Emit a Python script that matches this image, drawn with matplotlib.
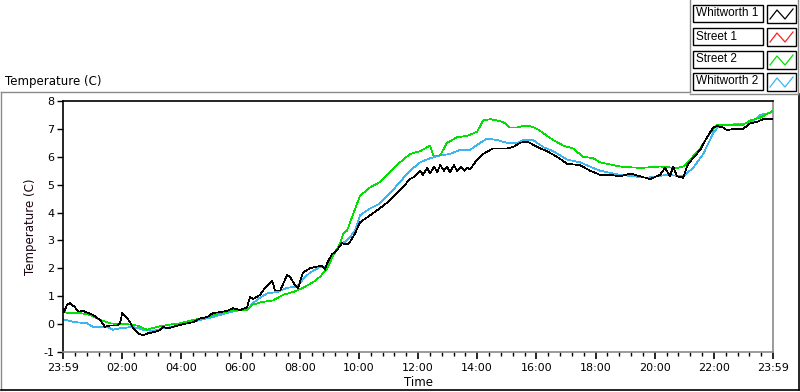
import matplotlib
matplotlib.use("Agg")
import matplotlib.pyplot as plt
from matplotlib.lines import Line2D
from matplotlib.patches import Rectangle
import numpy as np

# ---------------- data (hours since 23:59, temperature in C) ----------------
w1_t = [0.00, 0.03, 0.14, 0.24, 0.41, 0.51, 0.68, 0.85, 1.01, 1.25, 1.42, 1.59, 1.83, 1.93, 2.00,
        2.10, 2.27, 2.37, 2.54, 2.70, 2.87, 3.11, 3.28, 3.38, 3.55, 3.72, 4.06, 4.40, 4.63, 4.87,
        5.07, 5.31, 5.54, 5.75, 5.98, 6.22, 6.32, 6.42, 6.59, 6.66, 6.83, 7.07, 7.17, 7.34, 7.57,
        7.67, 7.84, 7.95, 8.11, 8.35, 8.52, 8.76, 8.86, 8.93, 9.09, 9.26, 9.43, 9.60, 9.70, 9.87,
        10.04, 10.38, 10.72, 11.06, 11.39, 11.73, 11.90, 12.07, 12.17, 12.31, 12.41, 12.54, 12.65,
        12.75, 12.88, 12.98, 13.08, 13.22, 13.32, 13.46, 13.56, 13.66, 13.76, 14.00, 14.20, 14.54,
        15.01, 15.21, 15.45, 15.69, 16.03, 16.36, 16.70, 17.04, 17.48, 17.82, 18.16, 18.49, 18.83,
        19.17, 19.51, 19.85, 20.18, 20.35, 20.52, 20.62, 20.76, 20.96, 21.13, 21.30, 21.54, 21.77,
        21.98, 22.11, 22.31, 22.45, 22.65, 22.99, 23.23, 23.46, 23.67, 24.00]
w1_v = [0.55, 0.43, 0.70, 0.75, 0.60, 0.45, 0.47, 0.40, 0.33, 0.15, -0.10, -0.05, -0.05, 0.03, 0.40,
        0.30, 0.07, -0.15, -0.33, -0.40, -0.33, -0.28, -0.22, -0.10, -0.15, -0.10, 0.00, 0.07, 0.20, 0.25,
        0.40, 0.43, 0.47, 0.57, 0.50, 0.60, 0.97, 0.90, 1.00, 1.05, 1.30, 1.55, 1.20, 1.20, 1.75,
        1.70, 1.40, 1.30, 1.85, 2.00, 2.05, 2.10, 1.95, 2.20, 2.50, 2.65, 2.90, 2.85, 2.95, 3.25,
        3.65, 3.90, 4.16, 4.44, 4.80, 5.20, 5.30, 5.50, 5.35, 5.60, 5.40, 5.65, 5.45,
        5.70, 5.50, 5.65, 5.45, 5.70, 5.50, 5.65, 5.50, 5.60, 5.55, 5.90, 6.10, 6.30,
        6.30, 6.35, 6.50, 6.55, 6.35, 6.20, 6.00, 5.75, 5.70, 5.50, 5.35, 5.35, 5.30,
        5.40, 5.30, 5.20, 5.35, 5.60, 5.30, 5.65, 5.30, 5.25, 5.75, 5.95, 6.25, 6.70,
        7.05, 7.10, 7.05, 6.95, 7.00, 7.00, 7.20, 7.25, 7.35, 7.35]

s2_t = [0.00, 0.14, 0.57, 0.91, 1.25, 1.59, 1.83, 2.16, 2.50, 2.84, 3.18, 3.52, 3.96, 4.40, 4.87,
        5.31, 5.75, 6.22, 6.42, 6.76, 7.10, 7.44, 7.78, 8.11, 8.45, 8.69, 8.93, 9.13, 9.37, 9.47,
        9.60, 10.04, 10.38, 10.72, 11.06, 11.39, 11.73, 12.07, 12.41, 12.51, 12.75, 12.98, 13.32,
        13.66, 14.00, 14.20, 14.44, 14.67, 14.88, 15.11, 15.35, 15.55, 15.79, 16.03, 16.23, 16.57,
        16.91, 17.24, 17.58, 17.92, 18.16, 18.83, 19.51, 20.18, 20.76, 20.96, 21.20, 21.54, 21.87,
        22.11, 22.31, 22.99, 23.23, 23.57, 24.00]
s2_v = [0.45, 0.40, 0.40, 0.33, 0.15, 0.03, 0.00, 0.00, -0.05, -0.20, -0.10, -0.03, 0.03, 0.15, 0.25,
        0.40, 0.50, 0.50, 0.70, 0.80, 0.85, 1.05, 1.15, 1.30, 1.50, 1.70, 2.00, 2.45, 2.90, 3.25,
        3.35, 4.60, 4.90, 5.10, 5.45, 5.80, 6.10, 6.20, 6.40, 6.05, 6.05, 6.50, 6.70,
        6.75, 6.90, 7.30, 7.35, 7.30, 7.25, 7.05, 7.05, 7.10, 7.10, 7.00, 6.85, 6.60,
        6.40, 6.30, 6.00, 5.95, 5.80, 5.65, 5.60, 5.65, 5.60, 5.65, 5.90, 6.30, 6.85,
        7.15, 7.15, 7.15, 7.30, 7.40, 7.65]

# Street 1 is hidden beneath Street 2 in the reference
s1_t = s2_t
s1_v = s2_v

w2_t = [0.00, 0.34, 0.81, 1.01, 1.49, 1.69, 1.93, 2.37, 2.70, 3.04, 3.38, 3.72, 4.19, 4.63, 5.07,
        5.54, 5.98, 6.22, 6.42, 6.59, 6.90, 7.24, 7.57, 7.91, 8.11, 8.35, 8.69, 8.93, 9.13, 9.37,
        9.60, 9.87, 10.04, 10.38, 10.72, 11.06, 11.39, 11.73, 12.07, 12.41, 12.75, 13.08, 13.42,
        13.76, 14.10, 14.34, 14.67, 15.01, 15.35, 15.55, 15.89, 16.23, 16.57, 17.04, 17.48, 17.92,
        18.16, 18.83, 19.74, 20.42, 20.96, 21.30, 21.64, 21.98, 22.21, 22.45, 23.23, 23.57, 24.00]
w2_v = [0.18, 0.08, 0.03, -0.10, -0.10, -0.20, -0.15, -0.10, -0.20, -0.25, -0.15, -0.10, 0.03, 0.15, 0.25,
        0.40, 0.50, 0.50, 0.75, 0.90, 1.10, 1.15, 1.30, 1.35, 1.60, 1.85, 2.05, 2.05, 2.50, 2.85,
        3.00, 3.35, 3.90, 4.15, 4.33, 4.70, 5.10, 5.50, 5.80, 5.95, 6.05, 6.10, 6.25,
        6.25, 6.50, 6.65, 6.60, 6.50, 6.50, 6.60, 6.60, 6.35, 6.20, 5.90, 5.80, 5.60,
        5.50, 5.35, 5.25, 5.35, 5.30, 5.60, 6.10, 6.85, 7.15, 7.15, 7.20, 7.50, 7.60]

series_names = ["Whitworth 1", "Street 1", "Street 2", "Whitworth 2"]
series_colors = ["#000000", "#ff2020", "#00e000", "#3cb4f0"]

x_tick_pos = [0, 2, 4, 6, 8, 10, 12, 14, 16, 18, 20, 22, 24]
x_tick_labels = ["23:59", "02:00", "04:00", "06:00", "08:00", "10:00", "12:00",
                 "14:00", "16:00", "18:00", "20:00", "22:00", "23:59"]
y_ticks = [-1, 0, 1, 2, 3, 4, 5, 6, 7, 8]

# ---------------- figure ----------------
W, H = 800, 392
fig = plt.figure(figsize=(W / 100, H / 100), dpi=100)
plt.rcParams['font.family'] = ['DejaVu Sans']
FS = 8
LEG_FONT = ['Liberation Sans', 'DejaVu Sans']
LW = 0.5

def fx(px):
    return px / W

def fy(py):
    return 1 - py / H

ax = fig.add_axes([fx(63), fy(352), fx(773) - fx(63), fy(101) - fy(352)])

# Street 1 drawn first, fully covered by Street 2 (identical aliased path)
ax.plot(w2_t, w2_v, color=series_colors[3], lw=LW, zorder=2, antialiased=False)
ax.plot(s1_t, s1_v, color=series_colors[1], lw=LW, zorder=3, antialiased=False)
ax.plot(s2_t, s2_v, color=series_colors[2], lw=LW, zorder=4, antialiased=False)
ax.plot(w1_t, w1_v, color=series_colors[0], lw=LW, zorder=5, antialiased=False)

ax.set_xlim(0, 24)
ax.set_ylim(-1, 8)
ax.set_xticks(x_tick_pos)
ax.set_xticklabels(x_tick_labels, fontsize=FS)
ax.set_xticks(np.arange(0, 24.01, 0.4), minor=True)
ax.set_yticks(y_ticks)
ax.set_yticklabels([str(v) for v in y_ticks], fontsize=FS)
ax.tick_params(axis='x', which='major', length=5, width=1.2, direction='out', pad=3)
ax.tick_params(axis='x', which='minor', length=3, width=1.0, direction='out')
ax.tick_params(axis='y', which='major', length=4, width=1.0, direction='out', pad=2)

ax.spines['left'].set_color('black')
ax.spines['top'].set_color('black')
ax.spines['right'].set_color('#8a8a8a')
ax.spines['bottom'].set_color('#8a8a8a')
for s in ax.spines.values():
    s.set_linewidth(1.2)

ax.set_xlabel("Time", fontsize=FS + 0.5, labelpad=2)
ax.set_ylabel("Temperature (C)", fontsize=FS + 0.5, labelpad=5, color="#1a0010")

# ---------------- frame & title ----------------
fig.add_artist(Line2D([fx(0.5), fx(690)], [fy(92), fy(92)], color='#8a8a8a', lw=1.0))
fig.add_artist(Line2D([fx(0.5), fx(0.5)], [fy(92), fy(390)], color='#8a8a8a', lw=1.0))
fig.add_artist(Line2D([fx(0.5), fx(799)], [fy(390), fy(390)], color='black', lw=1.2))
fig.add_artist(Line2D([fx(799), fx(799)], [fy(94), fy(390)], color='black', lw=1.2))
fig.add_artist(Line2D([fx(690), fx(690)], [fy(0), fy(92)], color='#8a8a8a', lw=1.0))
fig.add_artist(Line2D([fx(798), fx(798)], [fy(0), fy(94)], color='#8a8a8a', lw=1.0))
fig.add_artist(Line2D([fx(690), fx(798)], [fy(94), fy(94)], color='#8a8a8a', lw=1.0))

fig.text(fx(5), fy(81), "Temperature (C)", fontsize=FS + 0.5, ha='left', va='center')

# ---------------- legend (LabVIEW style) ----------------
row_tops = [5, 28, 51, 73]
for name, col, top in zip(series_names, series_colors, row_tops):
    fig.add_artist(Rectangle((fx(693), fy(top + 17)), fx(763) - fx(693), fy(top) - fy(top + 17),
                             fill=False, edgecolor='black', lw=1.0))
    fig.text(fx(696), fy(top + 8.5), name, fontsize=8.5, ha='left', va='center', family=LEG_FONT)
    fig.add_artist(Rectangle((fx(767), fy(top + 18)), fx(796) - fx(767), fy(top) - fy(top + 18),
                             fill=False, edgecolor='black', lw=1.0))
    zx = [fx(770), fx(777), fx(785), fx(793)]
    zy = [fy(top + 14), fy(top + 5), fy(top + 14), fy(top + 4)]
    fig.add_artist(Line2D(zx, zy, color=col, lw=0.9))

fig.savefig("out.png", dpi=100)
